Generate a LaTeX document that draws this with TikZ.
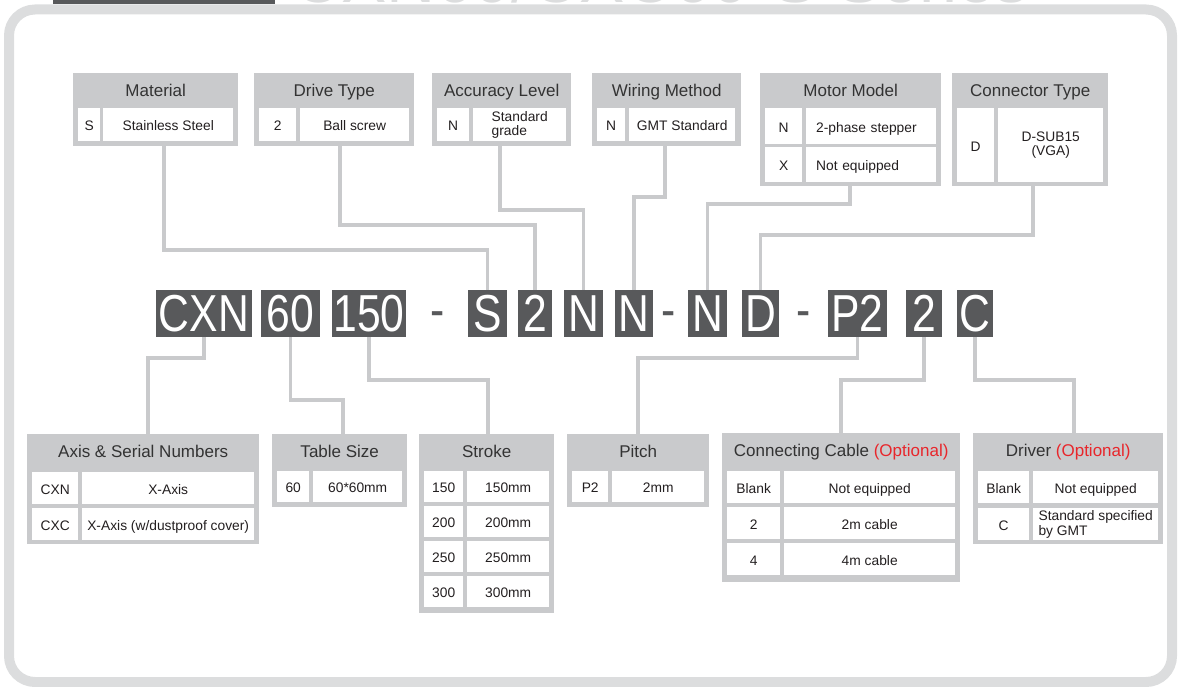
\documentclass[tikz,border=0pt]{standalone}
\usepackage{fontspec}
\setmainfont{Liberation Sans}
\newfontfamily\codefont[FakeStretch=0.82]{Liberation Sans}
\usetikzlibrary{calc}
\definecolor{framegray}{HTML}{DCDDDE}
\definecolor{panelgray}{HTML}{C9CACC}
\definecolor{codegray}{HTML}{58595B}
\definecolor{headtext}{HTML}{333333}
\definecolor{celltext}{HTML}{231F20}
\definecolor{optred}{HTML}{E8262B}

\begin{document}
\begin{tikzpicture}[x=1pt, y=-1pt,
    tabpanel/.style={fill=panelgray, anchor=north west, inner sep=0pt},
    tabhead/.style={text=headtext, inner sep=0pt, text height=12pt, text depth=3.5pt,
      font=\fontsize{17}{20}\selectfont},
    cellbase/.style={fill=white, anchor=north west, inner sep=0pt, text=celltext,
      font=\fontsize{13.8}{14.5}\selectfont},
    tabcell/.style={cellbase, text height=12pt, text depth=0pt},
    twoline/.style={cellbase, align=left},
    codebox/.style={fill=codegray, text=white, inner sep=0pt, minimum height=47pt,
      font=\codefont\fontsize{52}{52}\selectfont},
    codesep/.style={text=codegray, inner sep=0pt, text height=37pt, text depth=0pt,
      font=\codefont\fontsize{52}{52}\selectfont},
    leader/.style={draw=panelgray, line width=3.5pt}]
  \useasboundingbox (0,0) rectangle (1178,687);
  \clip (0,0) rectangle (1178,687);

  \node[anchor=base west, inner sep=0pt, text=framegray, font=\fontsize{68}{68}\selectfont]
    (title) at (292,3) {CXN60/CXC60-S Series};
  \fill[codegray] (53,-20) rectangle (275,4.5);
  \draw[framegray, line width=10pt, rounded corners=26pt] (9,9.5) rectangle (1172,682);

  % upper tables
  \node[tabpanel, minimum width=165pt, minimum height=73pt] (material) at (73,73) {};
  \node[tabhead] (material-h) at ([yshift=-19.5pt]material.north) {Material};
  \node[tabcell, minimum width=22pt, minimum height=33pt] (material-c) at (78,108) {S};
  \node[tabcell, minimum width=130pt, minimum height=33pt] (material-d) at (103,108) {Stainless Steel};

  \node[tabpanel, minimum width=160pt, minimum height=73pt] (drive) at (254,73) {};
  \node[tabhead] (drive-h) at ([yshift=-19.5pt]drive.north) {Drive Type};
  \node[tabcell, minimum width=37pt, minimum height=33pt] (drive-c) at (259,108) {2};
  \node[tabcell, minimum width=109pt, minimum height=33pt] (drive-d) at (300,108) {Ball screw};

  \node[tabpanel, minimum width=139pt, minimum height=73pt] (accuracy) at (432,73) {};
  \node[tabhead] (accuracy-h) at ([yshift=-19.5pt]accuracy.north) {Accuracy Level};
  \node[tabcell, minimum width=32pt, minimum height=33pt] (accuracy-c) at (437,108) {N};
  \node[twoline, minimum width=93pt, minimum height=33pt] (accuracy-d) at (473,108) {Standard\\grade};

  \node[tabpanel, minimum width=149pt, minimum height=73pt] (wiring) at (592,73) {};
  \node[tabhead] (wiring-h) at ([yshift=-19.5pt]wiring.north) {Wiring Method};
  \node[tabcell, minimum width=28pt, minimum height=33pt] (wiring-c) at (597,108) {N};
  \node[tabcell, minimum width=106pt, minimum height=33pt] (wiring-d) at (629,108) {GMT Standard};

  \node[tabpanel, minimum width=181pt, minimum height=113pt] (motor) at (760,73) {};
  \node[tabhead] (motor-h) at ([yshift=-19.5pt]motor.north) {Motor Model};
  \node[tabcell, minimum width=37pt, minimum height=36pt] (motor-c1) at (765,108) {N};
  \node[tabcell, minimum width=130pt, minimum height=36pt, text width=110pt, align=left] (motor-d1) at (806,108) {2-phase stepper};
  \node[tabcell, minimum width=37pt, minimum height=35pt] (motor-c2) at (765,147) {X};
  \node[tabcell, minimum width=130pt, minimum height=35pt, text width=110pt, align=left] (motor-d2) at (806,147) {Not equipped};

  \node[tabpanel, minimum width=156pt, minimum height=113pt] (connector) at (952,73) {};
  \node[tabhead] (connector-h) at ([yshift=-19.5pt]connector.north) {Connector Type};
  \node[tabcell, minimum width=37pt, minimum height=74pt] (connector-c) at (957,108) {D};
  \node[cellbase, align=center, minimum width=105pt, minimum height=74pt] (connector-d) at (998,108) {D-SUB15\\(VGA)};

  % code
  \node[codebox, minimum width=96pt] (c-cxn) at (204,313.5) {CXN};
  \node[codebox, minimum width=59pt] (c-60) at (290.5,313.5) {60};
  \node[codebox, minimum width=74pt] (c-150) at (369,313.5) {150};
  \node[codesep] (sep1) at (438,308.5) {-};
  \node[codebox, minimum width=39pt] (c-s) at (487.5,313.5) {S};
  \node[codebox, minimum width=34pt] (c-2) at (535,313.5) {2};
  \node[codebox, minimum width=39pt] (c-n1) at (583.5,313.5) {N};
  \node[codebox, minimum width=38pt] (c-n2) at (634,313.5) {N};
  \node[codesep] (sep2) at (669,308.5) {-};
  \node[codebox, minimum width=39pt] (c-n3) at (707.5,313.5) {N};
  \node[codebox, minimum width=37pt] (c-d) at (760.5,313.5) {D};
  \node[codesep] (sep3) at (804,308.5) {-};
  \node[codebox, minimum width=59pt] (c-p2) at (857.5,313.5) {P2};
  \node[codebox, minimum width=36pt] (c-2b) at (924,313.5) {2};
  \node[codebox, minimum width=36pt] (c-c) at (975,313.5) {C};

  % lower tables
  \node[tabpanel, minimum width=232pt, minimum height=110pt] (axis) at (27,434) {};
  \node[tabhead] (axis-h) at ([yshift=-19.5pt]axis.north) {Axis \& Serial Numbers};
  \node[tabcell, minimum width=46pt, minimum height=32pt] (axis-c1) at (32,472) {CXN};
  \node[tabcell, minimum width=172pt, minimum height=32pt] (axis-d1) at (82,472) {X-Axis};
  \node[tabcell, minimum width=46pt, minimum height=32pt] (axis-c2) at (32,508) {CXC};
  \node[tabcell, minimum width=172pt, minimum height=32pt] (axis-d2) at (82,508) {X-Axis (w/dustproof cover)};

  \node[tabpanel, minimum width=135pt, minimum height=73pt] (tablesize) at (272,434) {};
  \node[tabhead] (tablesize-h) at ([yshift=-19.5pt]tablesize.north) {Table Size};
  \node[tabcell, minimum width=32pt, minimum height=31pt] (tablesize-c) at (277,471) {60};
  \node[tabcell, minimum width=89pt, minimum height=31pt] (tablesize-d) at (313,471) {60*60mm};

  \node[tabpanel, minimum width=135pt, minimum height=179pt] (stroke) at (419,434) {};
  \node[tabhead] (stroke-h) at ([yshift=-19.5pt]stroke.north) {Stroke};
  \foreach \v [count=\i from 0] in {150,200,250,300}{
    \node[tabcell, minimum width=39pt, minimum height=31pt] (stroke-c\i) at (424,471+35*\i) {\v};
    \node[tabcell, minimum width=82pt, minimum height=31pt] (stroke-d\i) at (467,471+35*\i) {\v mm};
  }

  \node[tabpanel, minimum width=142pt, minimum height=73pt] (pitch) at (567,434) {};
  \node[tabhead] (pitch-h) at ([yshift=-19.5pt]pitch.north) {Pitch};
  \node[tabcell, minimum width=36pt, minimum height=31pt] (pitch-c) at (572,471) {P2};
  \node[tabcell, minimum width=92pt, minimum height=31pt] (pitch-d) at (612,471) {2mm};

  \node[tabpanel, minimum width=238pt, minimum height=149pt] (cable) at (722,433) {};
  \node[tabhead] (cable-h) at ([yshift=-19.5pt]cable.north) {Connecting Cable \textcolor{optred}{(Optional)}};
  \foreach \k/\t [count=\i from 0] in {Blank/Not equipped, 2/2m cable, 4/4m cable}{
    \node[tabcell, minimum width=53pt, minimum height=32pt] (cable-c\i) at (727,471+36*\i) {\k};
    \node[tabcell, minimum width=171pt, minimum height=32pt] (cable-d\i) at (784,471+36*\i) {\t};
  }

  \node[tabpanel, minimum width=190pt, minimum height=111pt] (driver) at (973,433) {};
  \node[tabhead] (driver-h) at ([yshift=-19.5pt]driver.north) {Driver \textcolor{optred}{(Optional)}};
  \node[tabcell, minimum width=51pt, minimum height=32pt] (driver-c1) at (978,471) {Blank};
  \node[tabcell, minimum width=125pt, minimum height=32pt] (driver-d1) at (1033,471) {Not equipped};
  \node[tabcell, minimum width=51pt, minimum height=32pt] (driver-c2) at (978,508) {C};
  \node[twoline, minimum width=125pt, minimum height=32pt] (driver-d2) at (1033,508) {Standard specified\\by GMT};

  % leaders
  \coordinate (k1) at (164,250);
  \coordinate (k2) at (340,225);
  \coordinate (k3) at (500,210);
  \coordinate (k4) at (665,197);
  \coordinate (k5) at (850,204);
  \coordinate (k6) at (1033,235);
  \coordinate (k7) at (148,358);
  \coordinate (k8) at (343,400);
  \coordinate (k9) at (488,380);
  \coordinate (k10) at (638,358);
  \coordinate (k11) at (841,380);
  \coordinate (k12) at (1074,380);
  \draw[leader] (material.south -| k1) -- (k1) -| (c-s.north);
  \draw[leader] (drive.south -| k2) -- (k2) -| (c-2.north);
  \draw[leader] (accuracy.south -| k3) -- (k3) -| (c-n1.north);
  \draw[leader] (wiring.south -| k4) -- (k4) -| (c-n2.north);
  \draw[leader] (motor.south -| k5) -- (k5) -| (c-n3.north);
  \draw[leader] (connector.south -| k6) -- (k6) -| (c-d.north);
  \draw[leader] (c-cxn.south) |- (k7) -- (axis.north -| k7);
  \draw[leader] (c-60.south) |- (k8) -- (tablesize.north -| k8);
  \draw[leader] (c-150.south) |- (k9) -- (stroke.north -| k9);
  \draw[leader] (c-p2.south) |- (k10) -- (pitch.north -| k10);
  \draw[leader] (c-2b.south) |- (k11) -- (cable.north -| k11);
  \draw[leader] (c-c.south) |- (k12) -- (driver.north -| k12);
\end{tikzpicture}
\end{document}
